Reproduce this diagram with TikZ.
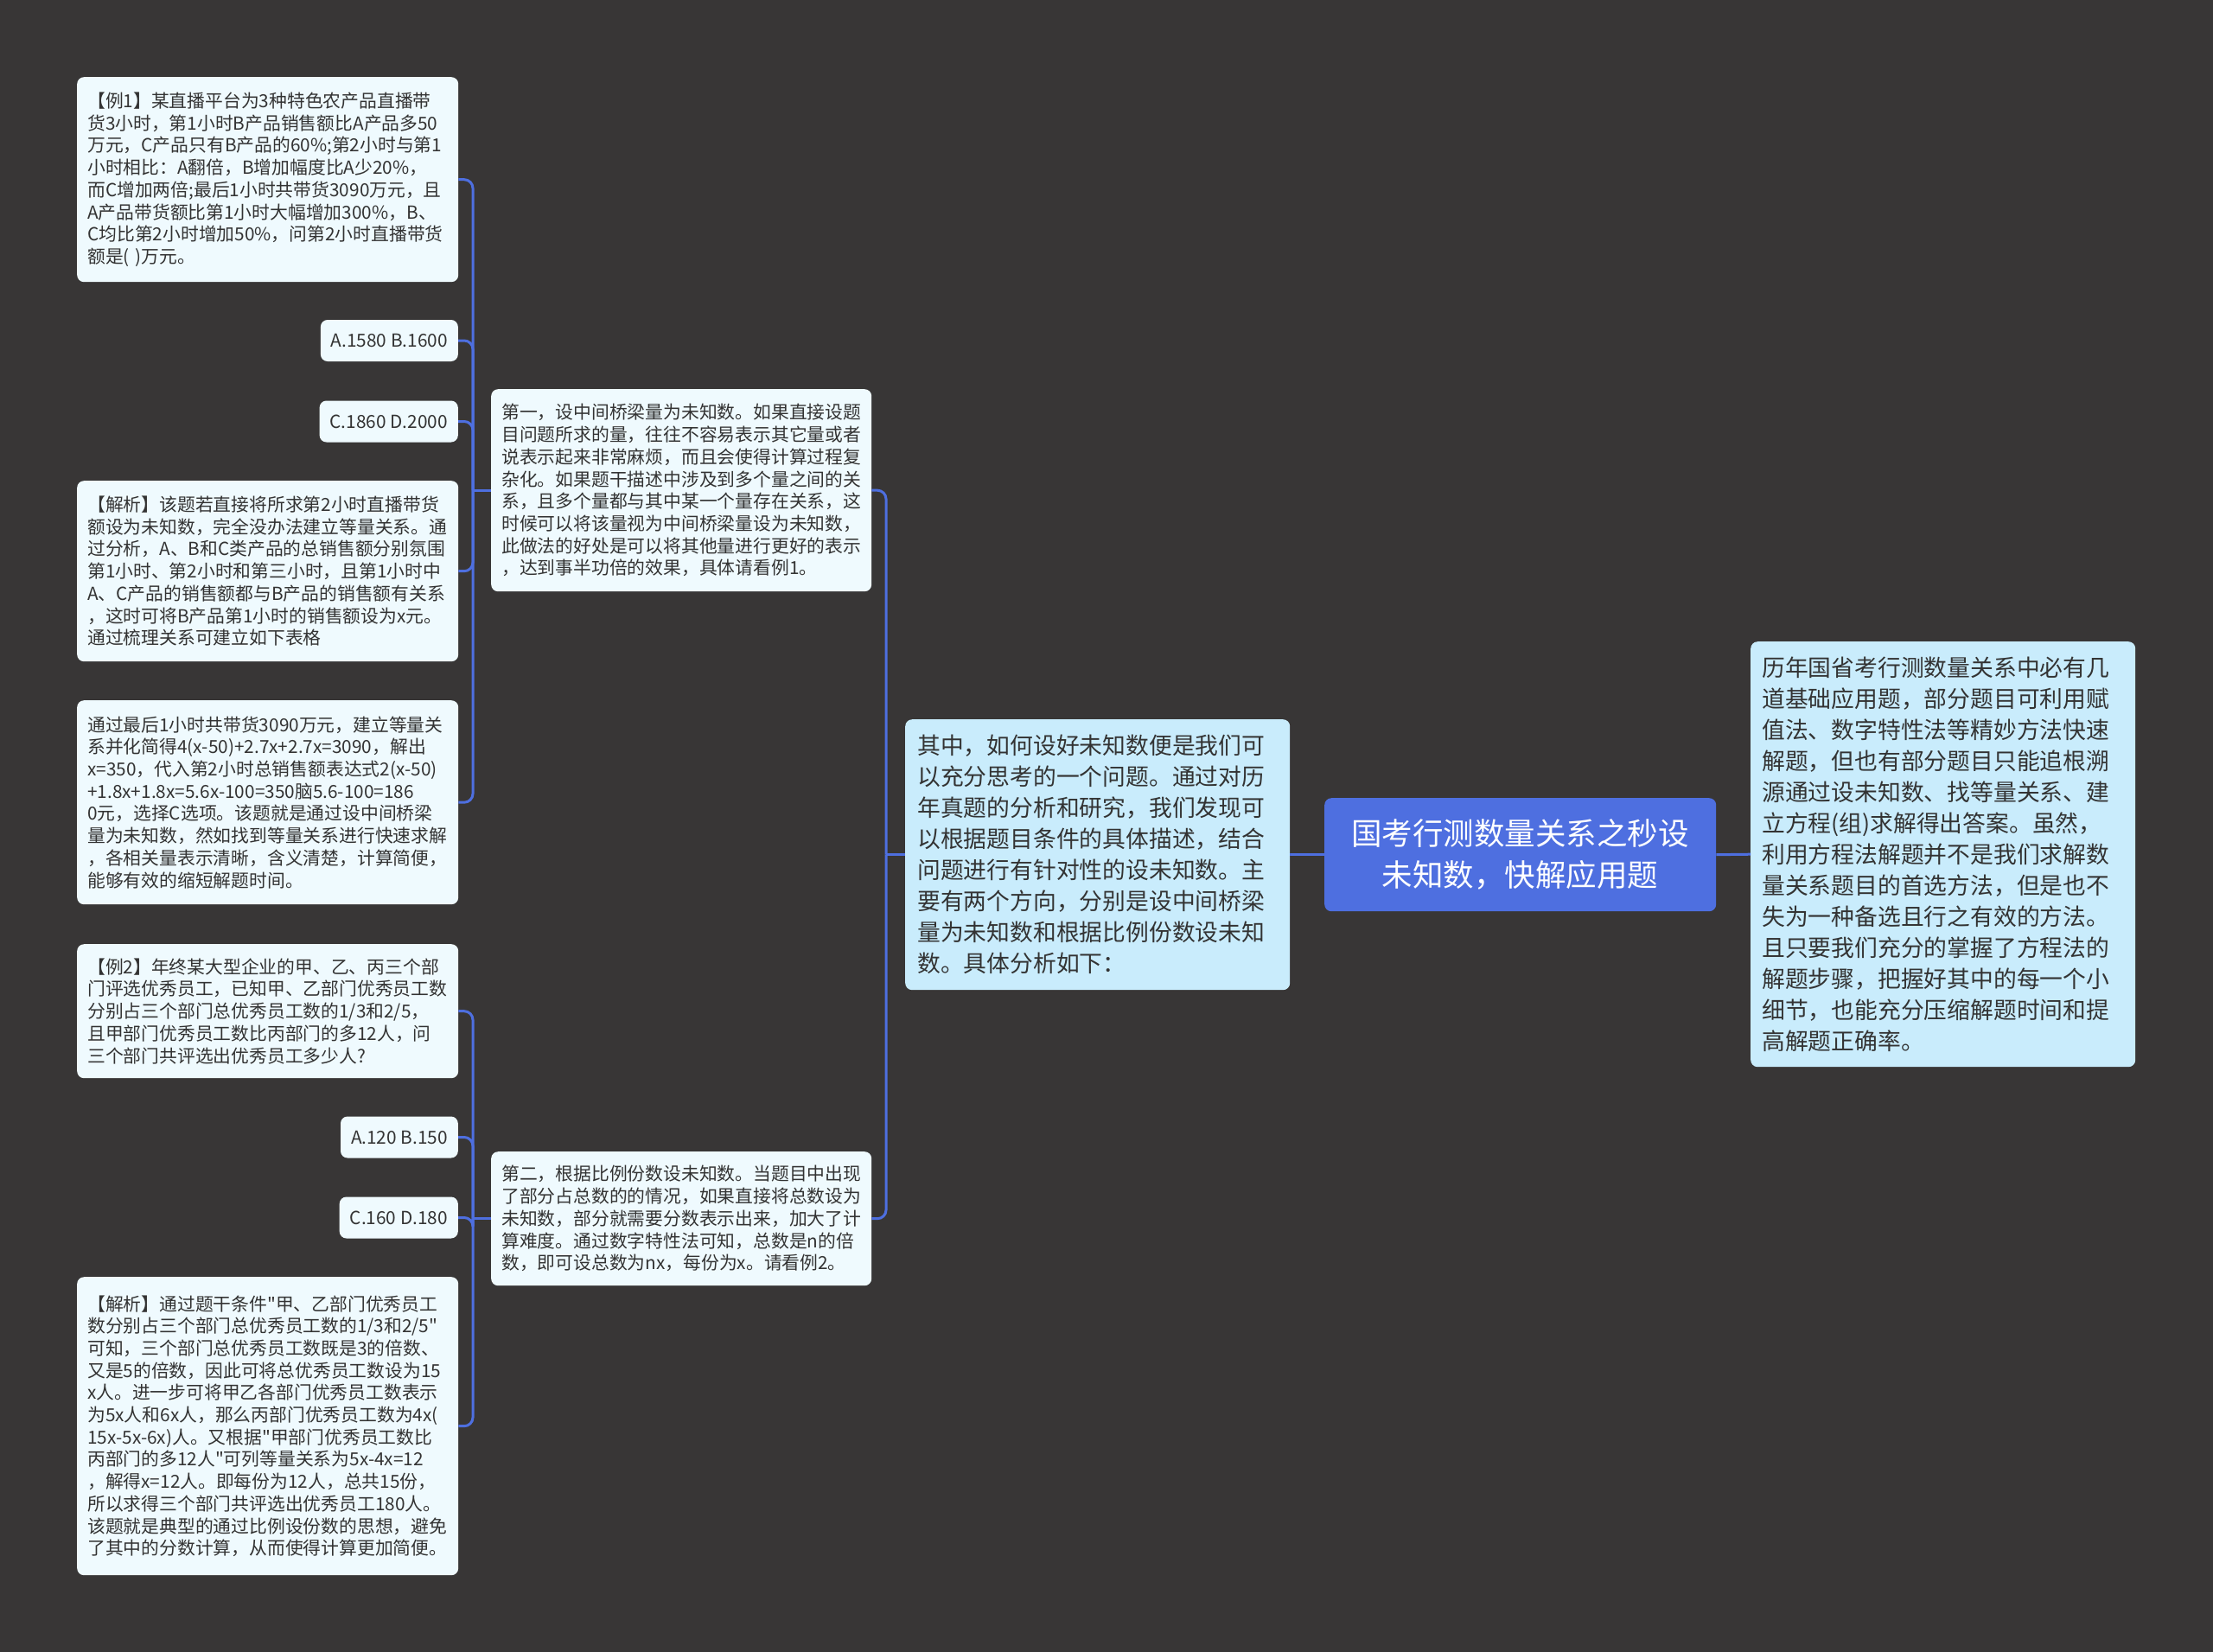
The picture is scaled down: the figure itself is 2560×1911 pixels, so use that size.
\documentclass[tikz,border=0pt]{standalone}
\usepackage{fontspec}
\setmainfont{Noto Sans CJK SC}[Ligatures=TeXOff]
\definecolor{bgc}{HTML}{383636}
\definecolor{leafc}{HTML}{EFFAFE}
\definecolor{midc}{HTML}{C9ECFC}
\definecolor{rootc}{HTML}{4E6FE0}
\definecolor{linec}{HTML}{4E6FE0}
\definecolor{txt}{HTML}{333333}
\newcommand\leaffont{\fontsize{20.8pt}{25.7pt}\selectfont}
\newcommand\midfont{\fontsize{26.8pt}{36pt}\selectfont}
\newcommand\rootfont{\fontsize{35.5pt}{48pt}\selectfont}
\begin{document}
\begin{tikzpicture}[x=1pt,y=-1pt,
  box/.style={rounded corners=8pt, inner ysep=0pt, text=txt},
  leaf/.style={box, fill=leafc, anchor=north west, inner xsep=12pt, align=left, font=\leaffont, text width=417pt},
  opt/.style={box, fill=leafc, anchor=east, inner xsep=12pt, minimum height=48pt, font=\leaffont},
  sub/.style={box, fill=leafc, anchor=north west, inner xsep=12pt, align=left, font=\leaffont, text width=416pt},
  big/.style={box, fill=midc, anchor=north west, inner xsep=14pt, align=left, font=\midfont},
  rootn/.style={box, fill=rootc, text=white, anchor=north west, align=center, font=\rootfont, minimum width=453pt, minimum height=131pt},
  conn/.style={draw=linec, line width=3pt},
  elbow/.style={conn, rounded corners=10pt}]
\fill[bgc] (0,0) rectangle (2560,1911);
\useasboundingbox (0,0) rectangle (2560,1911);

% root and right
\node[rootn] (root) at (1532,923) {国考行测数量关系之秒设\\未知数，快解应用题};
\node[big, text width=419pt, inner xsep=13pt, minimum height=492pt] (right) at (2025,742) {历年国省考行测数量关系中必有几\\道基础应用题，部分题目可利用赋\\值法、数字特性法等精妙方法快速\\解题，但也有部分题目只能追根溯\\源通过设未知数、找等量关系、建\\立方程(组)求解得出答案。虽然，\\利用方程法解题并不是我们求解数\\量关系题目的首选方法，但是也不\\失为一种备选且行之有效的方法。\\且只要我们充分的掌握了方程法的\\解题步骤，把握好其中的每一个小\\细节，也能充分压缩解题时间和提\\高解题正确率。};

% middle
\node[big, text width=417pt, minimum height=313pt] (mid) at (1047,832) {其中，如何设好未知数便是我们可\\以充分思考的一个问题。通过对历\\年真题的分析和研究，我们发现可\\以根据题目条件的具体描述，结合\\问题进行有针对性的设未知数。主\\要有两个方向，分别是设中间桥梁\\量为未知数和根据比例份数设未知\\数。具体分析如下：};

% second level
\node[sub, minimum height=234pt] (n1) at (568,450) {第一，设中间桥梁量为未知数。如果直接设题\\目问题所求的量，往往不容易表示其它量或者\\说表示起来非常麻烦，而且会使得计算过程复\\杂化。如果题干描述中涉及到多个量之间的关\\系，且多个量都与其中某一个量存在关系，这\\时候可以将该量视为中间桥梁量设为未知数，\\此做法的好处是可以将其他量进行更好的表示\\，达到事半功倍的效果，具体请看例1。};
\node[sub, minimum height=155pt] (n2) at (568,1332) {第二，根据比例份数设未知数。当题目中出现\\了部分占总数的的情况，如果直接将总数设为\\未知数，部分就需要分数表示出来，加大了计\\算难度。通过数字特性法可知，总数是n的倍\\数，即可设总数为nx，每份为x。请看例2。};

% leaves of n1
\node[leaf, minimum height=237pt] (ex1) at (89,89) {【例1】某直播平台为3种特色农产品直播带\\货3小时，第1小时B产品销售额比A产品多50\\万元，C产品只有B产品的60\%;第2小时与第1\\小时相比：A翻倍，B增加幅度比A少20\%，\\而C增加两倍;最后1小时共带货3090万元，且\\A产品带货额比第1小时大幅增加300\%，B、\\C均比第2小时增加50\%，问第2小时直播带货\\额是( )万元。};
\node[opt] (optA1) at (530,394) {A.1580 B.1600};
\node[opt] (optC1) at (530,487.5) {C.1860 D.2000};
\node[leaf, minimum height=209pt] (an1) at (89,556) {【解析】该题若直接将所求第2小时直播带货\\额设为未知数，完全没办法建立等量关系。通\\过分析，A、B和C类产品的总销售额分别氛围\\第1小时、第2小时和第三小时，且第1小时中\\A、C产品的销售额都与B产品的销售额有关系\\，这时可将B产品第1小时的销售额设为x元。\\通过梳理关系可建立如下表格};
\node[leaf, minimum height=236pt] (sol1) at (89,810) {通过最后1小时共带货3090万元，建立等量关\\系并化简得4(x-50)+2.7x+2.7x=3090，解出\\x=350，代入第2小时总销售额表达式2(x-50)\\+1.8x+1.8x=5.6x-100=350脑5.6-100=186\\0元，选择C选项。该题就是通过设中间桥梁\\量为未知数，然如找到等量关系进行快速求解\\，各相关量表示清晰，含义清楚，计算简便，\\能够有效的缩短解题时间。};

% leaves of n2
\node[leaf, minimum height=155pt] (ex2) at (89,1092) {【例2】年终某大型企业的甲、乙、丙三个部\\门评选优秀员工，已知甲、乙部门优秀员工数\\分别占三个部门总优秀员工数的1/3和2/5，\\且甲部门优秀员工数比丙部门的多12人，问\\三个部门共评选出优秀员工多少人?};
\node[opt] (optA2) at (530,1315.5) {A.120 B.150};
\node[opt] (optC2) at (530,1408.5) {C.160 D.180};
\node[leaf, minimum height=345pt] (an2) at (89,1477) {【解析】通过题干条件"甲、乙部门优秀员工\\数分别占三个部门总优秀员工数的1/3和2/5"\\可知，三个部门总优秀员工数既是3的倍数、\\又是5的倍数，因此可将总优秀员工数设为15\\x人。进一步可将甲乙各部门优秀员工数表示\\为5x人和6x人，那么丙部门优秀员工数为4x(\\15x-5x-6x)人。又根据"甲部门优秀员工数比\\丙部门的多12人"可列等量关系为5x-4x=12\\，解得x=12人。即每份为12人，总共15份，\\所以求得三个部门共评选出优秀员工180人。\\该题就是典型的通过比例设份数的思想，避免\\了其中的分数计算，从而使得计算更加简便。};

% connectors
\coordinate (sA) at ([xshift=-21pt]n1.west);
\coordinate (sB) at ([xshift=-21pt]n2.west);
\coordinate (sM) at ([xshift=-22pt]mid.west);
\draw[conn] (root.west) -- (mid.east);
\draw[conn] (root.east) -- (right.west);
\draw[conn] (mid.west) -- (sM);
\foreach \c in {n1,n2} \draw[elbow] (sM) |- (\c.east);
\draw[conn] (n1.west) -- (sA);
\foreach \c in {ex1,optA1,optC1,an1,sol1} \draw[elbow] (sA) |- (\c.east);
\draw[conn] (n2.west) -- (sB);
\foreach \c in {ex2,optA2,optC2,an2} \draw[elbow] (sB) |- (\c.east);
\end{tikzpicture}
\end{document}
